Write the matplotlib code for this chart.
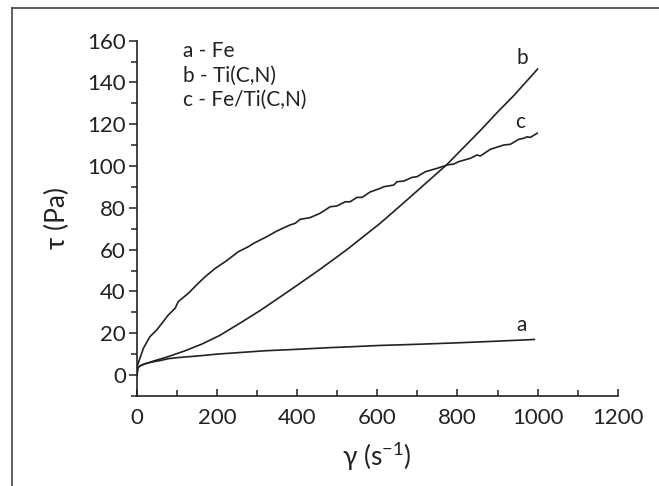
import matplotlib
matplotlib.use("Agg")
import matplotlib.pyplot as plt
from matplotlib.lines import Line2D
from matplotlib.ticker import MultipleLocator

plt.rcParams['font.family'] = ['Lato', 'DejaVu Sans']

# curve a - Fe
a_x = [0, 3, 8, 20, 40, 60, 78, 100, 157, 200, 320, 400, 482, 532, 600, 700, 800, 900, 992]
a_y = [0, 3.6, 4.4, 5.4, 6.3, 7.0, 7.8, 8.3, 9.2, 10.0, 11.6, 12.3, 13.1, 13.5, 14.1, 14.7, 15.4, 16.2, 17.0]

# curve b - Ti(C,N)
b_x = [0, 12, 40, 78, 120, 162, 207, 257, 307, 357, 407, 457, 524, 607, 649, 700, 774, 857, 900, 941, 1000]
b_y = [3.5, 4.8, 6.6, 8.8, 11.6, 14.8, 19.0, 24.8, 30.8, 37.3, 43.9, 50.6, 60.0, 72.6, 79.6, 88.2, 100.8, 117.0, 125.8, 133.8, 146.4]

# curve c - Fe/Ti(C,N)
c_x = [0, 2, 16, 32, 49, 62, 78, 95, 103, 128, 153, 170, 195, 220, 253, 278, 291, 324,
       349, 382, 395, 407, 432, 457, 482, 499, 520, 532, 549, 562, 582, 607, 616, 641,
       649, 666, 687, 699, 720, 749, 774, 791, 803, 832, 849, 857, 882, 916, 932, 953,
       966, 974, 982, 999]
c_y = [4.5, 5.0, 12.8, 18.3, 21.5, 24.7, 28.7, 31.9, 35.1, 39.1, 43.9, 47.0, 51.0, 54.2,
       59.0, 61.4, 63.0, 66.2, 68.9, 71.8, 72.6, 74.5, 75.3, 77.4, 80.5, 80.9, 82.9, 82.9,
       85.0, 85.0, 87.6, 89.3, 90.1, 90.9, 92.5, 92.8, 94.6, 94.9, 97.3, 98.9, 100.5, 101.0,
       102.1, 103.7, 105.3, 104.8, 108.0, 110.1, 110.4, 112.8, 113.3, 114.0, 113.7, 115.7]

labels = ["a - Fe", "b - Ti(C,N)", "c - Fe/Ti(C,N)"]
label_y = [0.972, 0.902, 0.834]

fig = plt.figure(figsize=(6.59, 4.86), dpi=100)
ax = fig.add_axes([0.2079, 0.1854, 0.7294, 0.7309])

lc = '#222222'
ax.plot(a_x, a_y, color=lc, lw=1.2)
ax.plot(b_x, b_y, color=lc, lw=1.2)
ax.plot(c_x, c_y, color=lc, lw=1.2)

ax.set_xlim(0, 1200)
ax.set_ylim(-10, 160)
ax.xaxis.set_major_locator(MultipleLocator(200))
ax.xaxis.set_minor_locator(MultipleLocator(100))
ax.yaxis.set_major_locator(MultipleLocator(20))
ax.yaxis.set_minor_locator(MultipleLocator(10))

for s in ['top', 'right']:
    ax.spines[s].set_visible(False)
for s in ['left', 'bottom']:
    ax.spines[s].set_linewidth(1.2)
    ax.spines[s].set_color(lc)

ax.tick_params(axis='y', which='major', direction='out', length=6, width=1.1, colors=lc, labelsize=16, pad=2)
ax.tick_params(axis='y', which='minor', direction='out', length=4, width=1.1, colors=lc)
ax.tick_params(axis='x', which='major', direction='in', length=5, width=1.1, colors=lc, labelsize=16, pad=9)
ax.tick_params(axis='x', which='minor', direction='in', length=4, width=1.1, colors=lc)
for t in ax.get_xticklabels() + ax.get_yticklabels():
    t.set_color('#222222')

ax.set_xlabel('γ (s$^{\\mathregular{-1}}$)', fontsize=19, color='#222222', labelpad=8)
ax.set_ylabel('τ (Pa)', fontsize=19, color='#222222', labelpad=12)

ax.text(961, 151.5, 'b', fontsize=15, color=lc, ha='center', va='center')
ax.text(956, 121, 'c', fontsize=15, color=lc, ha='center', va='center')
ax.text(959, 24, 'a', fontsize=15, color=lc, ha='center', va='center')

for lab, yy in zip(labels, label_y):
    ax.text(0.095, yy, lab, transform=ax.transAxes, fontsize=15,
            color=lc, ha='left', va='center')

# outer frame (top and left edges visible)
fig.add_artist(Line2D([12 / 659, 1], [1 - 8 / 486, 1 - 8 / 486], color='#444444', lw=1.2))
fig.add_artist(Line2D([12 / 659, 12 / 659], [0, 1 - 8 / 486], color='#444444', lw=1.2))

fig.savefig("out.png", dpi=100)
